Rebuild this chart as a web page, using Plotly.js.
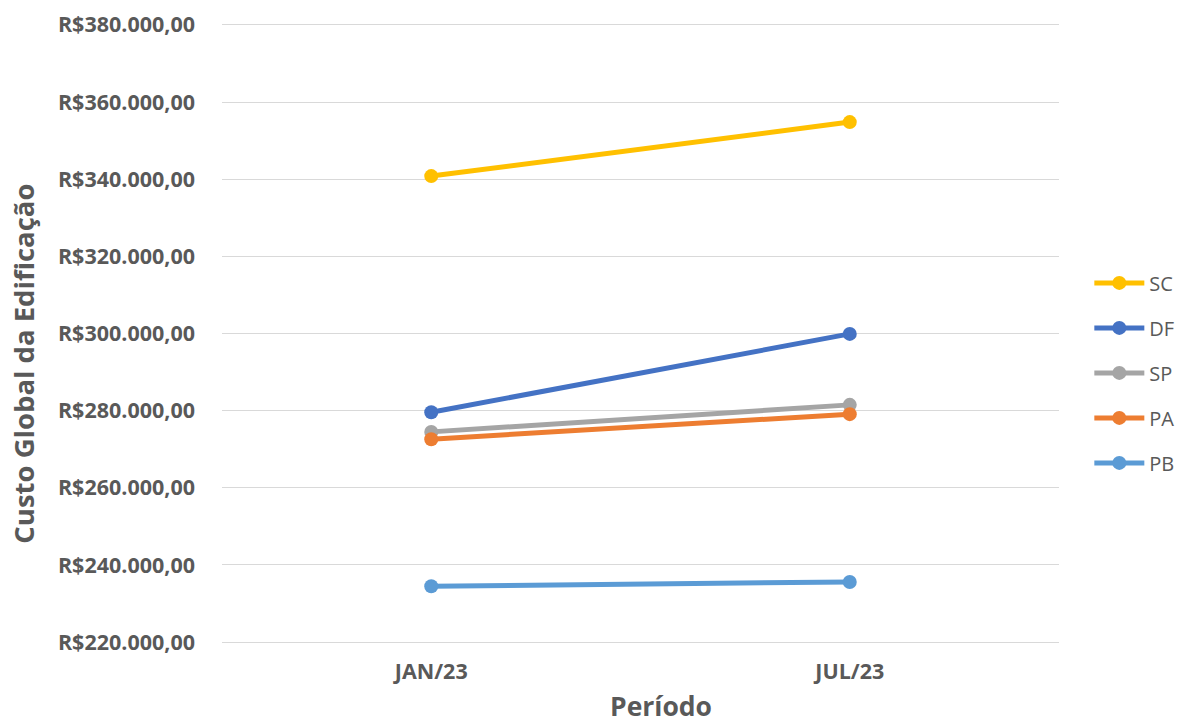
<!DOCTYPE html>
<html>
<head>
<meta charset="utf-8">
<script src="https://cdn.plot.ly/plotly-3.0.1.min.js"></script>
<style>html,body{margin:0;padding:0;background:#fff;}#chart{width:1191px;height:726px;}</style>
</head>
<body>
<div id="chart"></div>
<script>
const periods = ["JAN/23", "JUL/23"];
const seriesNames = ["SC", "DF", "SP", "PA", "PB"];
const SC = [340800, 354800];
const DF = [279600, 299900];
const SP = [274500, 281500];
const PA = [272600, 279100];
const PB = [234500, 235600];
const seriesValues = [SC, DF, SP, PA, PB];
const colors = ["#FFC000", "#4472C4", "#A5A5A5", "#ED7D31", "#5B9BD5"];
const yTickValues = [220000, 240000, 260000, 280000, 300000, 320000, 340000, 360000, 380000];
const yTickLabels = ["R$220.000,00", "R$240.000,00", "R$260.000,00", "R$280.000,00", "R$300.000,00",
                     "R$320.000,00", "R$340.000,00", "R$360.000,00", "R$380.000,00"];
const yTitle = "Custo Global da Edificação";
const xTitle = "Período";

const traces = seriesNames.map((n, i) => ({
  x: periods,
  y: seriesValues[i],
  name: n,
  legendgroup: n,
  type: "scatter",
  mode: "lines+markers",
  line: {color: colors[i], width: 5},
  marker: {color: colors[i], size: 14}
}));

const layout = {
  width: 1191, height: 726,
  margin: {l: 222, r: 131, t: 21.14, b: 80.14},
  paper_bgcolor: "#fff", plot_bgcolor: "#fff",
  font: {family: "Open Sans, sans-serif", color: "#595959"},
  showlegend: true,
  legend: {
    x: 1.035, xanchor: "left", y: 0.437, yanchor: "middle",
    font: {size: 20, color: "#595959"},
    tracegroupgap: 16,
    itemwidth: 50
  },
  xaxis: {
    type: "category",
    range: [-0.5, 1.5],
    showgrid: false, zeroline: false,
    showline: false,
    ticks: "",
    ticklabelstandoff: 10,
    tickfont: {size: 21.5, color: "#595959", weight: "bold"}
  },
  yaxis: {
    range: [219000, 381000],
    tickmode: "array",
    tickvals: yTickValues,
    ticktext: yTickLabels,
    showgrid: true, gridcolor: "#D9D9D9", gridwidth: 1,
    zeroline: false, showline: false,
    ticks: "", ticklen: 0,
    ticklabelstandoff: 26,
    tickfont: {size: 21.5, color: "#595959", weight: "bold"}
  },
  annotations: [
    {text: yTitle, xref: "paper", yref: "paper", x: -0.2375, y: 0.452,
     xanchor: "center", yanchor: "middle", textangle: -90, showarrow: false,
     font: {size: 27.5, color: "#595959", weight: "bold"}},
    {text: xTitle, xref: "paper", yref: "paper", x: 0.5239, y: -0.0965,
     xanchor: "center", yanchor: "middle", showarrow: false,
     font: {size: 26.5, color: "#595959", weight: "bold"}}
  ]
};

Plotly.newPlot("chart", traces, layout, {displayModeBar: false, staticPlot: true});
</script>
</body>
</html>
